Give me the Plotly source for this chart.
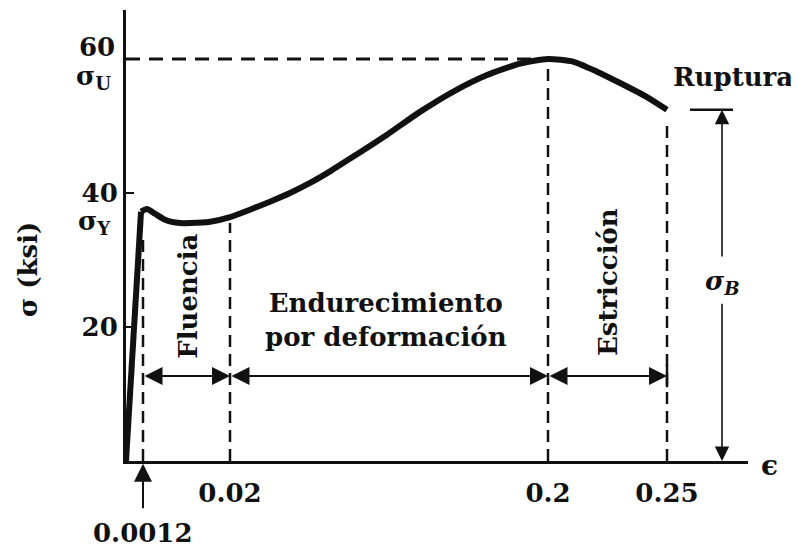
import numpy as np
import plotly.graph_objects as go

# ---------------- data ----------------
strain = [0, 0.00106, 0.00206, 0.0038, 0.00595, 0.0092, 0.0114, 0.0157, 0.02,
          0.0313, 0.0426, 0.054, 0.0653, 0.0771, 0.0896, 0.1089, 0.1275, 0.1462,
          0.1655, 0.1842, 0.2, 0.2105, 0.2206, 0.2303, 0.2416, 0.25]
stress = [0, 37.2, 37.6, 36.9, 36.0, 35.5, 35.5, 35.7, 36.4,
          37.5, 38.7, 40.0, 41.5, 43.3, 45.4, 48.7, 52.1, 55.1,
          57.6, 59.3, 60.0, 59.6, 58.1, 56.4, 54.3, 52.4]

strain_ticks = [0.02, 0.2, 0.25]
strain_tick_text = ["0.02", "0.2", "0.25"]
strain_prop_limit = 0.0012
stress_ticks = [20, 40, 60]
stress_tick_text = ["20", "40", "60"]
sigma_Y = 36.4
sigma_U = 60.0
sigma_B = 52.4
region_labels = ["Fluencia", "Endurecimiento<br>por deformación", "Estricción"]

# schematic (non-linear) strain scale used by the original drawing
scale_strain = [0, 0.0012, 0.02, 0.2, 0.25, 0.3]
scale_pos = [0, 17, 104, 422, 541, 660]
XMAX, YMAX = 622, 67.3


def sx(e):
    return np.interp(e, scale_strain, scale_pos)


def px(u):      # axis position -> paper fraction
    return float(u) / XMAX


def py(k):
    return float(k) / YMAX


FONT = "DejaVu Serif"
INK = "#111111"
FS = 26

fig = go.Figure()

i_el = 1
fig.add_trace(go.Scatter(x=sx(strain[:i_el + 1]), y=stress[:i_el + 1], mode="lines",
                         line=dict(color=INK, width=6), hoverinfo="skip", showlegend=False))
fig.add_trace(go.Scatter(x=sx(strain[i_el:]), y=stress[i_el:], mode="lines",
                         line=dict(color=INK, width=6, shape="spline", smoothing=0.6),
                         hoverinfo="skip", showlegend=False))

shapes = []
v_tops = [34.0, 35.5, sigma_U, sigma_B - 1.5]
for e, top in zip([strain_prop_limit] + strain_ticks, v_tops):
    shapes.append(dict(type="line", xref="x", yref="y", x0=sx(e), x1=sx(e), y0=0, y1=top,
                       line=dict(color=INK, width=2.5, dash="12px,7px")))
shapes.append(dict(type="line", xref="x", yref="y", x0=0, x1=sx(0.2), y0=sigma_U, y1=sigma_U,
                   line=dict(color=INK, width=3, dash="14px,9px")))
dim_y = 12.7
shapes.append(dict(type="line", xref="x", yref="y", x0=sx(0.25), x1=sx(0.25), y0=dim_y - 1.7,
                   y1=dim_y + 1.7, line=dict(color=INK, width=2.5)))
bx = 596
shapes.append(dict(type="line", xref="x", yref="y", x0=bx - 32, x1=bx + 11, y0=sigma_B, y1=sigma_B,
                   line=dict(color=INK, width=2.5)))

ann = []
bounds = [strain_prop_limit] + strain_ticks
for a, b in zip(bounds[:-1], bounds[1:]):
    ann.append(dict(x=sx(b), y=dim_y, ax=sx(a), ay=dim_y, xref="x", yref="y", axref="x", ayref="y",
                    text="", showarrow=True, arrowhead=2, startarrowhead=2, arrowside="end+start",
                    arrowsize=1.8, startarrowsize=1.8, arrowwidth=2, arrowcolor=INK))
ann.append(dict(x=bx, y=sigma_B, ax=bx, ay=30.3, xref="x", yref="y", axref="x", ayref="y",
                text="", showarrow=True, arrowhead=2, arrowsize=1.8, arrowwidth=1.6, arrowcolor=INK))
ann.append(dict(x=bx, y=0, ax=bx, ay=23.7, xref="x", yref="y", axref="x", ayref="y",
                text="", showarrow=True, arrowhead=2, arrowsize=1.8, arrowwidth=1.6, arrowcolor=INK))
# 0.0012 arrow (below the axis, so paper-referenced)
ann.append(dict(x=px(sx(strain_prop_limit)), y=py(-0.4), xref="paper", yref="paper",
                ax=0, ay=46, axref="pixel", ayref="pixel", text="", showarrow=True,
                arrowhead=2, arrowsize=1.8, arrowwidth=2, arrowcolor=INK))


def txt(x, y, s, size=FS, angle=0, xanchor="center", italic=False):
    ann.append(dict(x=px(x), y=py(y), xref="paper", yref="paper", text=s, showarrow=False,
                    textangle=angle, xanchor=xanchor, yanchor="middle",
                    font=dict(family=FONT, size=size, color=INK, weight="bold",
                              style="italic" if italic else "normal")))


txt(sx(strain_prop_limit), -10.8, "0.0012")
txt(-9, 61.8, stress_tick_text[2], xanchor="right")
txt(-13, 57.2, "σ<sub>U</sub>", xanchor="right")
txt(-13, 35.6, "σ<sub>Y</sub>", xanchor="right")
txt(607, 57.3, "Ruptura")
txt(62, 24.5, region_labels[0], angle=-90)
txt(260, 21.0, region_labels[1])
txt(482, 26.7, region_labels[2], angle=-90)
txt(bx, 26.6, "σ<sub>B</sub>", italic=True)
txt(-98, 28.5, "σ (ksi)", angle=-90)
txt(643, -0.7, "ϵ", size=28)

fig.update_layout(
    width=791, height=542,
    margin=dict(l=118, r=51, t=2, b=89),
    paper_bgcolor="white", plot_bgcolor="white",
    shapes=shapes, annotations=ann, showlegend=False,
    font=dict(family=FONT, color=INK, size=FS, weight="bold"),
    xaxis=dict(range=[0, XMAX], showgrid=False, zeroline=False, showline=True,
               linecolor=INK, linewidth=3, tickvals=list(sx(strain_ticks)),
               ticktext=strain_tick_text, ticks="", ticklabelstandoff=7,
               tickfont=dict(family=FONT, size=FS, color=INK, weight="bold")),
    yaxis=dict(range=[0, YMAX], showgrid=False, zeroline=False, showline=True,
               linecolor=INK, linewidth=3, tickvals=stress_ticks[:2],
               ticktext=stress_tick_text[:2], ticks="inside", ticklen=8, tickwidth=2,
               tickcolor=INK, ticklabelstandoff=0,
               tickfont=dict(family=FONT, size=FS, color=INK, weight="bold")),
)

fig.write_html("out.html")
